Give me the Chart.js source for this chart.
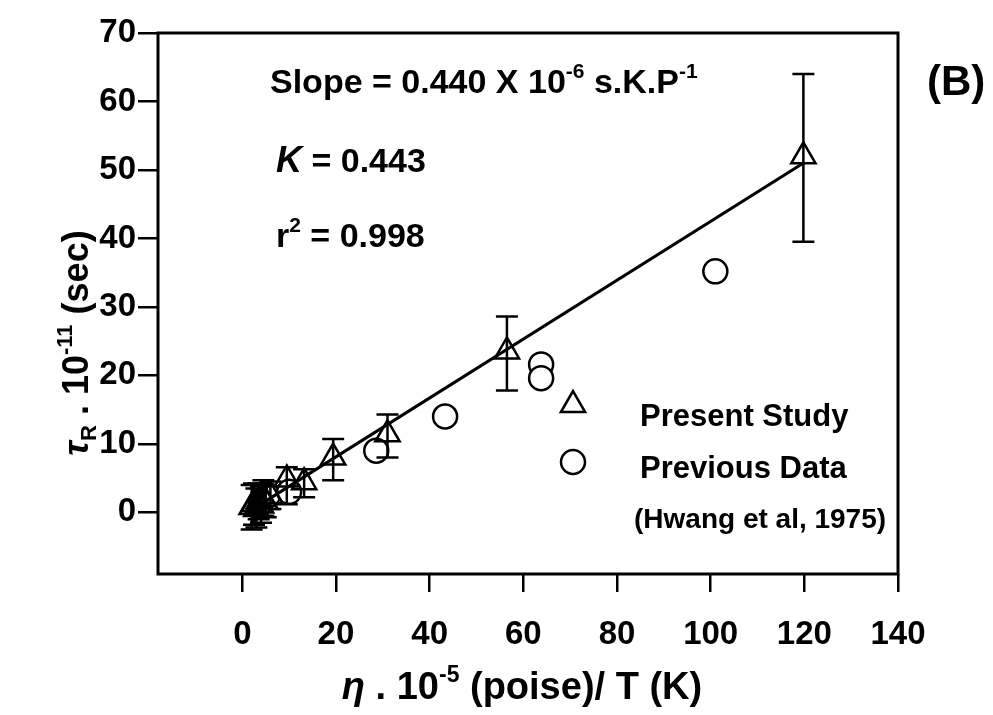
<!DOCTYPE html>
<html>
<head>
<meta charset="utf-8">
<script src="https://cdn.jsdelivr.net/npm/chart.js@4/dist/chart.umd.min.js"></script>
<style>
  html, body { margin: 0; background: #fff; }
  #wrap { width: 993px; height: 715px; }
</style>
</head>
<body>
<div id="wrap"><canvas id="chart" width="993" height="715"></canvas></div>
<script>
// ---------- Data ----------
const X_TICKS = [0, 20, 40, 60, 80, 100, 120, 140];
const Y_TICKS = [0, 10, 20, 30, 40, 50, 60, 70];

// Present study: triangles with error bars
const presentX  = [2.0, 2.5, 3.0, 3.5, 4.0, 4.5, 5.0, 6.0, 9.5, 13.2, 19.4, 31.0, 56.5, 119.8];
const presentY  = [0.8, 1.2, 0.5, 1.6, 1.0, 2.0, 1.5, 2.4, 4.8, 4.4, 8.0, 11.4, 23.5, 52.0];
const presentLo = [-2.5, -1.8, -2.2, -1.0, -1.5, -0.5, -0.7, 0.5, 1.2, 2.2, 4.7, 8.0, 17.8, 39.5];
const presentHi = [4.0, 4.2, 3.5, 4.2, 3.8, 4.7, 4.0, 4.5, 6.6, 6.3, 10.7, 14.3, 28.6, 64.0];

// Previous data (Hwang et al, 1975): open circles
const previousX = [4.0, 5.5, 10.0, 28.6, 43.3, 63.8, 63.8, 101.0];
const previousY = [1.5, 2.5, 3.0, 9.0, 14.0, 21.6, 19.6, 35.2];

// Least-squares line
const fitX = [3, 120];
const fitY = [0.8, 51.1];

const FONT = "'Liberation Sans', Arial, sans-serif";
const pts = (xs, ys) => xs.map((x, i) => ({ x, y: ys[i] }));

// ---------- Rich text helper (super/subscripts) ----------
function richText(ctx, segs, x, y, align = "left") {
  let w = 0;
  segs.forEach(s => { ctx.font = s.font; w += ctx.measureText(s.t).width; });
  let cx = align === "center" ? x - w / 2 : x;
  ctx.textBaseline = "alphabetic";
  ctx.textAlign = "left";
  segs.forEach(s => {
    ctx.font = s.font;
    ctx.fillText(s.t, cx, y + (s.dy || 0));
    cx += ctx.measureText(s.t).width;
  });
}
const B = sz => `bold ${sz}px ${FONT}`;
const BI = sz => `italic bold ${sz}px ${FONT}`;

// ---------- Plugins ----------
const framePlugin = {
  id: "frame",
  afterDraw(chart) {
    const { ctx, chartArea: a } = chart;
    ctx.save();
    ctx.strokeStyle = "#000";
    ctx.lineWidth = 3;
    ctx.strokeRect(a.left, a.top, a.right - a.left, a.bottom - a.top);
    ctx.restore();
  }
};

const errorBarPlugin = {
  id: "errorBars",
  afterDatasetsDraw(chart) {
    const { ctx, scales: { x, y } } = chart;
    ctx.save();
    ctx.strokeStyle = "#000";
    ctx.lineWidth = 2.5;
    presentX.forEach((v, i) => {
      const px = x.getPixelForValue(v);
      const lo = y.getPixelForValue(presentLo[i]);
      const hi = y.getPixelForValue(presentHi[i]);
      const cap = 11;
      ctx.beginPath();
      ctx.moveTo(px, lo); ctx.lineTo(px, hi);
      ctx.moveTo(px - cap, lo); ctx.lineTo(px + cap, lo);
      ctx.moveTo(px - cap, hi); ctx.lineTo(px + cap, hi);
      ctx.stroke();
    });
    ctx.restore();
  }
};

const textPlugin = {
  id: "texts",
  afterDraw(chart) {
    const { ctx } = chart;
    ctx.save();
    ctx.fillStyle = "#000";

    richText(ctx, [
      { t: "Slope = 0.440 X 10", font: B(34) },
      { t: "-6", font: B(21), dy: -15 },
      { t: " s.K.P", font: B(34) },
      { t: "-1", font: B(21), dy: -15 }
    ], 270, 93);

    richText(ctx, [{ t: "(B)", font: B(42) }], 927, 95);

    richText(ctx, [
      { t: "K", font: BI(36) },
      { t: " = 0.443", font: B(34) }
    ], 276, 172);

    richText(ctx, [
      { t: "r", font: B(34) },
      { t: "2", font: B(21), dy: -15 },
      { t: " = 0.998", font: B(34) }
    ], 276, 247);

    // legend
    richText(ctx, [{ t: "Present Study", font: B(31) }], 640, 426);
    richText(ctx, [{ t: "Previous Data", font: B(31) }], 640, 478);
    richText(ctx, [{ t: "(Hwang et al, 1975)", font: B(28) }], 634, 528);

    ctx.strokeStyle = "#000";
    ctx.lineWidth = 2.5;
    const tx = 573, ty = 405, r = 14;
    ctx.beginPath();
    ctx.moveTo(tx, ty - r);
    ctx.lineTo(tx + r * 0.866, ty + r * 0.5);
    ctx.lineTo(tx - r * 0.866, ty + r * 0.5);
    ctx.closePath();
    ctx.stroke();
    ctx.beginPath();
    ctx.arc(573, 462, 12, 0, Math.PI * 2);
    ctx.stroke();

    // x axis title
    richText(ctx, [
      { t: "\u03b7", font: BI(38) },
      { t: " . 10", font: B(38) },
      { t: "-5", font: B(23), dy: -17 },
      { t: " (poise)/ T (K)", font: B(38) }
    ], 522, 699, "center");

    // y axis title (rotated)
    ctx.translate(88, 343);
    ctx.rotate(-Math.PI / 2);
    richText(ctx, [
      { t: "\u03c4", font: BI(36) },
      { t: "R", font: B(22), dy: 8 },
      { t: " . 10", font: B(36) },
      { t: "-11", font: B(22), dy: -16 },
      { t: " (sec)", font: B(36) }
    ], 0, 0, "center");
    ctx.restore();
  }
};

// ---------- Chart ----------
const tickFont = { family: FONT, weight: "bold", size: 33 };

new Chart(document.getElementById("chart"), {
  type: "scatter",
  data: {
    datasets: [
      {
        label: "Fit",
        type: "line",
        data: pts(fitX, fitY),
        borderColor: "#000",
        borderWidth: 3,
        pointRadius: 0,
        fill: false
      },
      {
        label: "Present Study",
        data: pts(presentX, presentY),
        pointStyle: "triangle",
        pointRadius: 14,
        borderColor: "#000",
        borderWidth: 2.5,
        backgroundColor: "rgba(0,0,0,0)"
      },
      {
        label: "Previous Data",
        data: pts(previousX, previousY),
        pointStyle: "circle",
        pointRadius: 12,
        borderColor: "#000",
        borderWidth: 2.5,
        backgroundColor: "#fff"
      }
    ]
  },
  options: {
    responsive: false,
    animation: false,
    devicePixelRatio: 1,
    layout: { padding: { top: 33, right: 95, left: 0, bottom: 0 } },
    plugins: { legend: { display: false }, tooltip: { enabled: false } },
    scales: {
      x: {
        type: "linear",
        min: -18, max: 140,
        afterBuildTicks: s => { s.ticks = X_TICKS.map(v => ({ value: v })); },
        afterFit: s => { s.height = 141; },
        border: { display: false },
        grid: { drawOnChartArea: false, drawTicks: true, tickLength: 18, color: "#000", lineWidth: 2.5 },
        ticks: { color: "#000", font: tickFont, padding: 23, maxRotation: 0, autoSkip: false }
      },
      y: {
        type: "linear",
        min: -9, max: 70,
        afterBuildTicks: s => { s.ticks = Y_TICKS.map(v => ({ value: v })); },
        afterFit: s => { s.width = 158; },
        border: { display: false },
        grid: { drawOnChartArea: false, drawTicks: true, tickLength: 20, color: "#000", lineWidth: 2.5 },
        ticks: { color: "#000", font: tickFont, padding: 2, autoSkip: false }
      }
    }
  },
  plugins: [framePlugin, errorBarPlugin, textPlugin]
});
</script>
</body>
</html>
